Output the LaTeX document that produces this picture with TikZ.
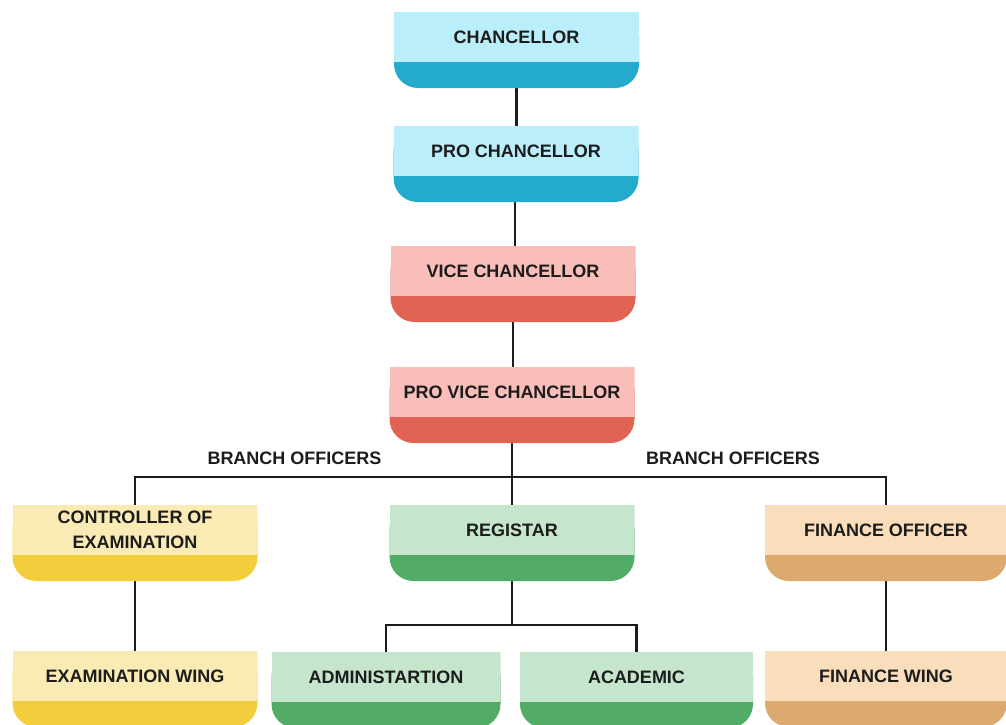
\documentclass[tikz,border=0pt]{standalone}
\usepackage{fontspec}
\setmainfont{Liberation Sans}
\usetikzlibrary{backgrounds}
\definecolor{blueL}{HTML}{B9EEFA}
\definecolor{blueD}{HTML}{23AACD}
\definecolor{pinkL}{HTML}{F9BEB9}
\definecolor{pinkD}{HTML}{E06353}
\definecolor{yelL}{HTML}{FAEBB4}
\definecolor{yelD}{HTML}{F2CD3C}
\definecolor{grnL}{HTML}{C5E6CD}
\definecolor{grnD}{HTML}{52AC66}
\definecolor{pchL}{HTML}{FADEBC}
\definecolor{pchD}{HTML}{DCAA6E}
\definecolor{ink}{HTML}{1C1C1C}
\tikzset{
  orgbox/.style 2 args={rectangle, inner sep=0pt, minimum width=245pt, minimum height=76pt,
    path picture={
      \fill[#2, rounded corners=24pt] (path picture bounding box.north west) rectangle (path picture bounding box.south east);
      \fill[#1] (path picture bounding box.north west) rectangle ([yshift=-50pt]path picture bounding box.north east);
    }},
  boxtext/.style={font=\bfseries\fontsize{18}{24.5}\selectfont, text=ink, align=center, inner sep=0pt},
  conn/.style={draw=ink, line width=2.3pt},
}
\begin{document}
\begin{tikzpicture}[x=1pt,y=-1pt]
\useasboundingbox (0,0) rectangle (1006,724);
\clip (0,0) rectangle (1006,724);
% boxes
\node[orgbox={blueL}{blueD}] (chan) at (516.5,50) {};
\node[orgbox={blueL}{blueD}] (prochan) at (516,164) {};
\node[orgbox={pinkL}{pinkD}] (vice) at (513,284) {};
\node[orgbox={pinkL}{pinkD}] (provice) at (512,405) {};
\node[orgbox={yelL}{yelD}] (ctrl) at (135,543) {};
\node[orgbox={grnL}{grnD}] (reg) at (512,543) {};
\node[orgbox={pchL}{pchD}, minimum width=242pt] (finoff) at (886,543) {};
\node[orgbox={yelL}{yelD}] (examw) at (135,689) {};
\node[orgbox={grnL}{grnD}, minimum width=229pt] (admin) at (386,690) {};
\node[orgbox={grnL}{grnD}, minimum width=233pt] (acad) at (636.5,690) {};
\node[orgbox={pchL}{pchD}, minimum width=242pt] (finw) at (886,689) {};
% texts
\node[boxtext] (tchan) at ([yshift=-25pt]chan.north) {CHANCELLOR};
\node[boxtext] (tprochan) at ([yshift=-25pt]prochan.north) {PRO CHANCELLOR};
\node[boxtext] (tvice) at ([yshift=-25pt]vice.north) {VICE CHANCELLOR};
\node[boxtext] (tprovice) at ([yshift=-25pt]provice.north) {PRO VICE CHANCELLOR};
\node[boxtext] (tctrl) at ([yshift=-25pt]ctrl.north) {CONTROLLER OF\\EXAMINATION};
\node[boxtext] (treg) at ([yshift=-25pt]reg.north) {REGISTAR};
\node[boxtext] (tfinoff) at ([yshift=-25pt]finoff.north) {FINANCE OFFICER};
\node[boxtext] (texamw) at ([yshift=-25pt]examw.north) {EXAMINATION WING};
\node[boxtext] (tadmin) at ([yshift=-25pt]admin.north) {ADMINISTARTION};
\node[boxtext] (tacad) at ([yshift=-25pt]acad.north) {ACADEMIC};
\node[boxtext] (tfinw) at ([yshift=-25pt]finw.north) {FINANCE WING};
\node[boxtext] (bl) at (294.5,458) {BRANCH OFFICERS};
\node[boxtext] (br) at (733,458) {BRANCH OFFICERS};
% connectors
\coordinate (bus) at (512,477);
\coordinate (bus2) at (512,625);
\begin{scope}[on background layer]
\draw[conn] (chan.south) -- (chan.south |- prochan.north);
\draw[conn] ([xshift=-1pt]prochan.south) -- ([xshift=-1pt]prochan.south |- vice.north);
\draw[conn] (vice.south) -- (vice.south |- provice.north);
\draw[conn] (provice.south) -- (reg.north);
\draw[conn] (ctrl.north) |- (bus) -| (finoff.north);
\draw[conn] (reg.south) -- (bus2);
\draw[conn] (admin.north) |- (bus2) -| (acad.north);
\draw[conn] (ctrl.south) -- (examw.north);
\draw[conn] (finoff.south) -- (finw.north);
\end{scope}
\end{tikzpicture}
\end{document}
